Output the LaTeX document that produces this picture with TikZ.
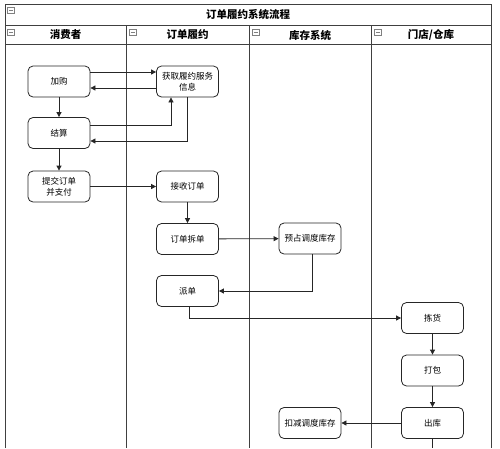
\documentclass[tikz,border=0pt]{standalone}
\usepackage{fontspec}
\setmainfont{Noto Sans CJK SC}
\usetikzlibrary{arrows.meta}
\tikzset{
  stepbox/.style={draw=black!85, line width=0.8pt, rounded corners=5pt, minimum width=62pt, minimum height=31pt, inner sep=1pt, align=center, font=\fontsize{8.5}{11}\selectfont, fill=white},
  flow/.style={draw=black!85, line width=0.8pt, -{Triangle[length=5pt,width=5pt]}},
  plain/.style={draw=black!85, line width=0.8pt},
  frame/.style={draw=black!75, line width=1pt},
  hdr/.style={font=\fontsize{10.5}{12}\selectfont\bfseries},
  minusicon/.style={draw=black!50, line width=0.5pt, fill=white}
}
\newcommand{\minusbox}[2]{%
  \draw[minusicon] (#1,#2) rectangle ++(7,6);
  \draw[black!50, line width=0.6pt] (#1+1.5,#2+3) -- ++(4,0);
}
\begin{document}
\begin{tikzpicture}[x=1pt,y=-1pt]
\useasboundingbox (0,0) rectangle (500,448);
% frame
\draw[frame] (5,448) -- (5,4) -- (491,4) -- (491,448);
\draw[frame] (5,25) -- (491,25);
\draw[frame] (5,44) -- (491,44);
\draw[frame] (126,25) -- (126,448);
\draw[frame] (249,25) -- (249,448);
\draw[frame] (371,25) -- (371,448);
% title and headers
\node[hdr] (title) at (248,14.5) {订单履约系统流程};
\node[hdr] (h1) at (65.5,35) {消费者};
\node[hdr] (h2) at (187.5,35) {订单履约};
\node[hdr] (h3) at (310,35) {库存系统};
\node[hdr] (h4) at (431,35) {门店/仓库};
\minusbox{7.5}{7.5}
\minusbox{7.5}{29}
\minusbox{129}{29}
\minusbox{252}{29}
\minusbox{374.5}{29}
% nodes
\node[stepbox] (jg) at (59,81.5) {加购};
\node[stepbox] (hq) at (187.5,81.5) {获取履约服务\\信息};
\node[stepbox] (js) at (59,133) {结算};
\node[stepbox] (tj) at (59,186.5) {提交订单\\并支付};
\node[stepbox] (js2) at (187.5,186.5) {接收订单};
\node[stepbox] (cd) at (187.5,239) {订单拆单};
\node[stepbox] (pd) at (187.5,291) {派单};
\node[stepbox] (yz) at (310,238.5) {预占调度库存};
\node[stepbox] (jh) at (432.5,318) {拣货};
\node[stepbox] (db) at (432.5,370.5) {打包};
\node[stepbox] (ck) at (432.5,423) {出库};
\node[stepbox] (kj) at (310,423) {扣减调度库存};
\coordinate (bottom) at (432.5,448);
% connectors
\draw[flow] (jg.east |- 0,72) -- (hq.west |- 0,72);
\draw[flow] (hq.west |- 0,88) -- (jg.east |- 0,88);
\draw[flow] (jg) -- (js);
\draw[flow] (js.east |- 0,125) -| (171,0 |- hq.south);
\draw[flow] (hq.south -| 187.5,0) |- (js.east |- 0,141);
\draw[flow] (js) -- (tj);
\draw[flow] (tj) -- (js2);
\draw[flow] (js2) -- (cd);
\draw[flow] (cd) -- (yz);
\draw[flow] (yz.south -| 312,0) |- (pd.east);
\draw[flow] (pd.south -| 189,0) |- (jh.west);
\draw[flow] (jh) -- (db);
\draw[flow] (db) -- (ck);
\draw[flow] (ck) -- (kj);
\draw[plain] (ck) -- (bottom);
\end{tikzpicture}
\end{document}
